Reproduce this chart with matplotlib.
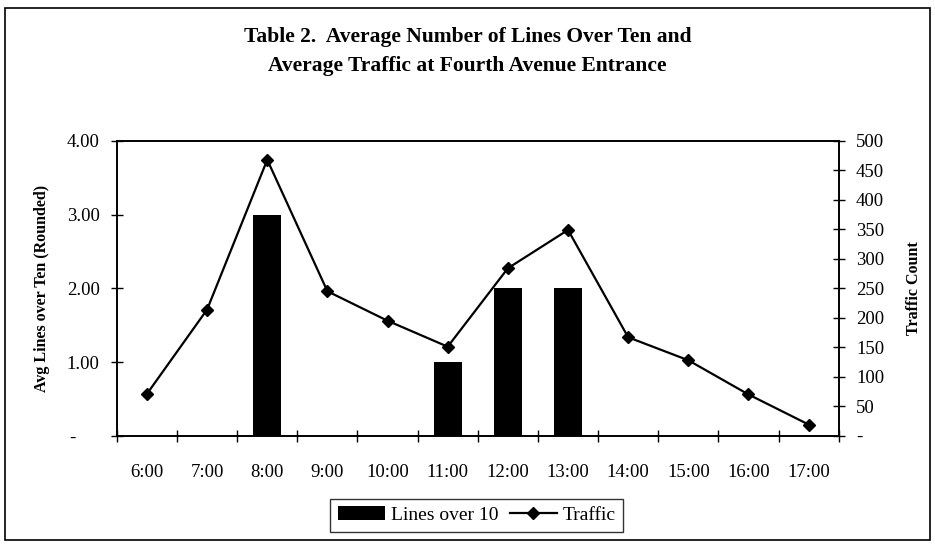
import matplotlib.pyplot as plt
from matplotlib.patches import Rectangle
from matplotlib.ticker import FuncFormatter

plt.rcParams['font.family'] = ['Liberation Serif', 'DejaVu Serif']

hours = ['6:00', '7:00', '8:00', '9:00', '10:00', '11:00',
         '12:00', '13:00', '14:00', '15:00', '16:00', '17:00']
lines_over_10 = [0, 0, 3, 0, 0, 1, 2, 2, 0, 0, 0, 0]
traffic = [71, 214, 468, 245, 195, 151, 284, 349, 167, 128, 70, 19]

x = list(range(len(hours)))

fig = plt.figure(figsize=(9.35, 5.44), dpi=100)
ax = fig.add_axes([0.125, 0.199, 0.772, 0.542])
ax2 = ax.twinx()

bars = ax.bar(x, lines_over_10, width=0.47, color='black', label='Lines over 10')
line, = ax2.plot(x, traffic, color='black', lw=1.6, marker='D', ms=6,
                 label='Traffic')

ax.set_xlim(-0.5, len(hours) - 0.5)
ax.set_ylim(0, 4)
ax2.set_ylim(0, 500)

# ticks at category edges, labels at centres
ax.set_xticks([i - 0.5 for i in range(len(hours) + 1)])
ax.set_xticklabels([])
ax.set_xticks(x, hours, minor=True)
ax.tick_params(axis='x', which='major', direction='inout', length=9, width=1)
ax.tick_params(axis='x', which='minor', length=0, labelsize=13.5, pad=20)

ax.set_yticks([0, 1, 2, 3, 4])
ax.yaxis.set_major_formatter(FuncFormatter(lambda v, p: '-     ' if v == 0 else f'{v:.2f}'))
ax.tick_params(axis='y', direction='inout', length=9, width=1, labelsize=13.5, pad=8)

ax2.set_yticks(range(0, 501, 50))
ax2.yaxis.set_major_formatter(FuncFormatter(lambda v, p: '-' if v == 0 else f'{int(v)}'))
ax2.tick_params(axis='y', direction='inout', length=9, width=1, labelsize=13.5, pad=8)

for a in (ax, ax2):
    for s in a.spines.values():
        s.set_linewidth(1.2)

ax.set_ylabel('Avg Lines over Ten (Rounded)', fontsize=11.5, fontweight='bold', labelpad=12)
ax2.set_ylabel('Traffic Count', fontsize=11.5, fontweight='bold', labelpad=16)

fig.suptitle('Table 2.  Average Number of Lines Over Ten and\nAverage Traffic at Fourth Avenue Entrance',
             fontsize=15.5, fontweight='bold', y=0.95, linespacing=1.6)

leg = fig.legend([bars, line], ['Lines over 10', 'Traffic'], loc='center',
                 bbox_to_anchor=(0.51, 0.053), ncol=2, fontsize=14, frameon=True,
                 fancybox=False, edgecolor='black', handlelength=2.4,
                 columnspacing=0.6, handletextpad=0.3, borderpad=0.4)
leg.get_frame().set_linewidth(1)

fig.patches.append(Rectangle((0.005, 0.008), 0.99, 0.978, transform=fig.transFigure,
                             fill=False, edgecolor='black', lw=1.2))

fig.savefig('out.png', dpi=100)
